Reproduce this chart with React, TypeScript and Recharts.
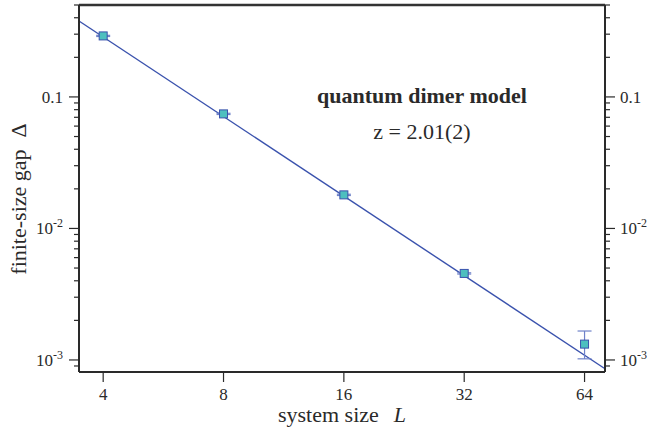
import React from 'react';
import {
  ComposedChart, Line, Scatter, ErrorBar, XAxis, YAxis, ReferenceLine, Label,
} from 'recharts';

// measured points (system size L, finite-size gap)
const sizes = [4, 8, 16, 32, 64];
const gaps = [0.291, 0.0743, 0.0180, 0.00455, 0.00132];
const gapErrLow = [0.003, 0.0008, 0.0002, 0.00005, 0.0003];
const gapErrHigh = [0.003, 0.0008, 0.0002, 0.00005, 0.00034];

// fitted power law, end points
const fitSizes = [3.48, 72];
const fitGaps = [0.378, 0.000857];

const xTicks = [4, 8, 16, 32, 64];
const yMajor = [0.001, 0.01, 0.1];
const yMinor = [
  0.0009, 0.002, 0.003, 0.004, 0.005, 0.006, 0.007, 0.008, 0.009,
  0.02, 0.03, 0.04, 0.05, 0.06, 0.07, 0.08, 0.09,
  0.2, 0.3, 0.4, 0.5,
];
const xDomain = [3.48, 72];
const yDomain = [0.00081, 0.5];

const points = sizes.map((L, i) => ({ L, gap: gaps[i], err: [gapErrLow[i], gapErrHigh[i]] }));
const fit = fitSizes.map((L, i) => ({ L, gap: fitGaps[i] }));
const yTicks = [...yMajor, ...yMinor].sort((a, b) => a - b);

const FONT = '"Liberation Serif", "DejaVu Serif", serif';
const INK = '#2a2a2a';
const LINE = '#3a52ad';

const yLabel = (v: number) => {
  if (v === 0.1) return <tspan>0.1</tspan>;
  const exp = Math.round(Math.log10(v));
  return (
    <>
      <tspan>10</tspan>
      <tspan dy={-7} fontSize={12}>{`-${-exp}`}</tspan>
    </>
  );
};

const isMajor = (v: number) => yMajor.some((m) => Math.abs(m - v) < 1e-9);

const LeftTick = (props: any) => {
  const { x, y, payload } = props;
  const major = isMajor(payload.value);
  const len = major ? 10 : 5;
  return (
    <g>
      <line x1={x - len} y1={y} x2={x} y2={y} stroke={INK} strokeWidth={1.2} />
      {major && (
        <text x={x - 16} y={y + 6} textAnchor="end" fontFamily={FONT} fontSize={17} fill={INK}>
          {yLabel(payload.value)}
        </text>
      )}
    </g>
  );
};

const RightTick = (props: any) => {
  const { x, y, payload } = props;
  const major = isMajor(payload.value);
  const len = major ? 10 : 5;
  return (
    <g>
      <line x1={x} y1={y} x2={x + len} y2={y} stroke={INK} strokeWidth={1.2} />
      {major && (
        <text x={x + 15} y={y + 6} textAnchor="start" fontFamily={FONT} fontSize={17} fill={INK}>
          {yLabel(payload.value)}
        </text>
      )}
    </g>
  );
};

const BottomTick = (props: any) => {
  const { x, y, payload } = props;
  return (
    <g>
      <line x1={x} y1={y} x2={x} y2={y + 10} stroke={INK} strokeWidth={1.2} />
      <text x={x} y={y + 28} textAnchor="middle" fontFamily={FONT} fontSize={17} fill={INK}>
        {payload.value}
      </text>
    </g>
  );
};

const Square = (props: any) => {
  const { cx, cy } = props;
  return <rect x={cx - 4} y={cy - 4} width={8} height={8} fill="#4dbfbf" stroke={LINE} strokeWidth={1} />;
};

export default function App() {
  return (
    <div style={{ position: 'absolute', left: 0, top: 0, width: 649, height: 431 }}>
      <ComposedChart width={649} height={431} margin={{ top: 5, right: 0, bottom: 0, left: 0 }}>
        <XAxis
          dataKey="L"
          type="number"
          scale="log"
          domain={xDomain}
          allowDataOverflow
          ticks={xTicks}
          interval={0}
          height={59}
          tickSize={0}
          tickMargin={0}
          tickLine={false}
          tick={<BottomTick />}
          axisLine={{ stroke: INK, strokeWidth: 2 }}
        >
          <Label
            content={() => (
              <text x={278} y={422} textAnchor="start" fontFamily={FONT} fontSize={22} fill={INK}>
                system size
                <tspan dx={15} fontStyle="italic">L</tspan>
              </text>
            )}
          />
        </XAxis>
        <YAxis
          yAxisId="left"
          type="number"
          scale="log"
          domain={yDomain}
          allowDataOverflow
          ticks={yTicks}
          interval={0}
          width={79}
          tickSize={0}
          tickMargin={0}
          tickLine={false}
          tick={<LeftTick />}
          axisLine={{ stroke: INK, strokeWidth: 2 }}
        >
          <Label
            content={() => (
              <text
                x={26}
                y={199}
                transform="rotate(-90 26 199)"
                textAnchor="middle"
                fontFamily={FONT}
                fontSize={22}
                fill={INK}
              >
                finite-size gap
                <tspan dx={12}>Δ</tspan>
              </text>
            )}
          />
        </YAxis>
        <YAxis
          yAxisId="right"
          orientation="right"
          type="number"
          scale="log"
          domain={yDomain}
          allowDataOverflow
          ticks={yTicks}
          interval={0}
          width={44}
          tickSize={0}
          tickMargin={0}
          tickLine={false}
          tick={<RightTick />}
          axisLine={{ stroke: INK, strokeWidth: 2 }}
        />
        <ReferenceLine yAxisId="left" y={yDomain[1]} stroke="#333" strokeWidth={2.5} />
        <Line
          yAxisId="left"
          data={fit}
          dataKey="gap"
          type="linear"
          stroke={LINE}
          strokeWidth={1.4}
          dot={false}
          activeDot={false}
          isAnimationActive={false}
        />
        <Scatter
          yAxisId="left"
          data={points}
          dataKey="gap"
          shape={<Square />}
          isAnimationActive={false}
        >
          <ErrorBar dataKey="err" direction="y" width={7} stroke="#6f82c9" strokeWidth={1.2} />
        </Scatter>
      </ComposedChart>
      <div
        style={{
          position: 'absolute', left: 312, top: 83, width: 220, textAlign: 'center',
          fontFamily: FONT, fontSize: 22, fontWeight: 'bold', color: INK, whiteSpace: 'nowrap',
        }}
      >
        quantum dimer model
      </div>
      <div
        style={{
          position: 'absolute', left: 312, top: 119, width: 220, textAlign: 'center',
          fontFamily: FONT, fontSize: 22, color: INK, whiteSpace: 'nowrap',
        }}
      >
        z = 2.01(2)
      </div>
    </div>
  );
}
